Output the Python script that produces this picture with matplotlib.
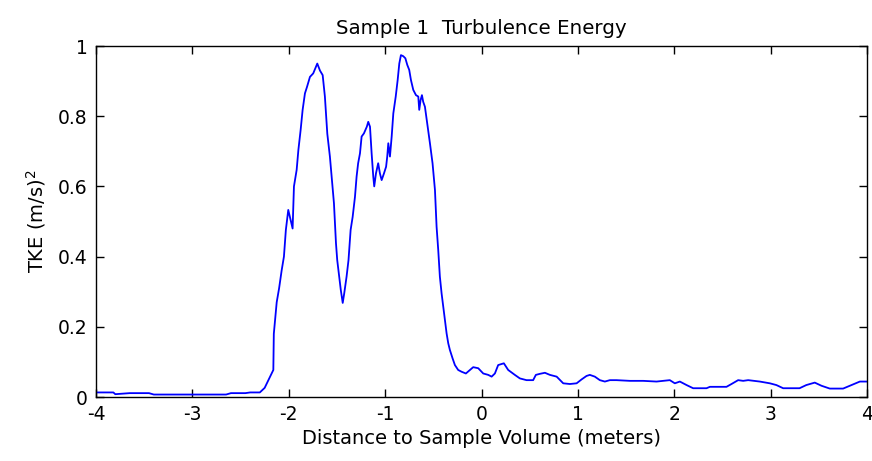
import matplotlib
matplotlib.use("Agg")
import matplotlib.pyplot as plt
import numpy as np

plt.rcParams['font.family'] = ['DejaVu Sans']

# distance to sample volume (m) and turbulence energy
distance = [-4.0, -3.82, -3.80, -3.65, -3.45, -3.40, -3.13, -2.65, -2.60, -2.45, -2.40, -2.30,
            -2.25, -2.16, -2.155, -2.125, -2.10, -2.074, -2.05, -2.03, -2.005, -1.98, -1.96,
            -1.946, -1.918, -1.90, -1.877, -1.856, -1.832, -1.81, -1.78, -1.746, -1.704,
            -1.676, -1.648, -1.625, -1.60, -1.573, -1.552, -1.531, -1.51, -1.497, -1.476,
            -1.46, -1.44, -1.424, -1.40, -1.38, -1.358, -1.337, -1.313, -1.296, -1.28,
            -1.261, -1.244, -1.22, -1.19, -1.175, -1.157, -1.14, -1.123, -1.113, -1.095,
            -1.072, -1.054, -1.036, -1.012, -0.99, -0.978, -0.967, -0.95, -0.932, -0.915,
            -0.89, -0.87, -0.853, -0.836, -0.812, -0.79, -0.77, -0.75, -0.732, -0.708,
            -0.68, -0.656, -0.646, -0.632, -0.618, -0.605, -0.587, -0.563, -0.535, -0.508,
            -0.483, -0.466, -0.449, -0.432, -0.414, -0.397, -0.38, -0.362, -0.345, -0.328,
            -0.30, -0.276, -0.242, -0.207, -0.162, -0.12, -0.086, -0.034, 0.018, 0.07,
            0.105, 0.139, 0.173, 0.232, 0.277, 0.346, 0.398, 0.467, 0.536, 0.564, 0.606,
            0.658, 0.71, 0.78, 0.848, 0.917, 0.987, 1.038, 1.09, 1.124, 1.176, 1.228, 1.28,
            1.332, 1.40, 1.54, 1.678, 1.816, 1.954, 2.006, 2.058, 2.128, 2.196, 2.335, 2.37,
            2.542, 2.594, 2.663, 2.715, 2.767, 2.888, 2.992, 3.06, 3.13, 3.30, 3.37, 3.458,
            3.528, 3.614, 3.752, 3.84, 3.926, 4.0]
tke = [0.013, 0.013, 0.008, 0.011, 0.011, 0.007, 0.007, 0.007, 0.011, 0.011, 0.013, 0.013,
       0.026, 0.077, 0.18, 0.27, 0.31, 0.36, 0.40, 0.476, 0.533, 0.504, 0.48,
       0.60, 0.647, 0.704, 0.76, 0.818, 0.865, 0.884, 0.912, 0.922, 0.950,
       0.93, 0.917, 0.856, 0.75, 0.685, 0.618, 0.552, 0.438, 0.39, 0.343,
       0.305, 0.268, 0.296, 0.343, 0.39, 0.476, 0.513, 0.57, 0.628, 0.666,
       0.694, 0.742, 0.751, 0.77, 0.784, 0.77, 0.694, 0.628, 0.60, 0.637,
       0.666, 0.637, 0.618, 0.637, 0.656, 0.685, 0.723, 0.685, 0.742, 0.808,
       0.856, 0.903, 0.95, 0.974, 0.971, 0.965, 0.946, 0.932, 0.903, 0.875,
       0.86, 0.856, 0.818, 0.846, 0.86, 0.841, 0.827, 0.78, 0.723, 0.666,
       0.59, 0.485, 0.419, 0.343, 0.295, 0.257, 0.219, 0.181, 0.153, 0.134,
       0.11, 0.091, 0.077, 0.072, 0.067, 0.077, 0.085, 0.082, 0.067, 0.063,
       0.058, 0.067, 0.091, 0.096, 0.077, 0.063, 0.053, 0.048, 0.048, 0.063, 0.066,
       0.069, 0.063, 0.058, 0.039, 0.037, 0.039, 0.05, 0.06, 0.063, 0.058, 0.048, 0.044,
       0.048, 0.048, 0.046, 0.046, 0.044, 0.048, 0.039, 0.044, 0.034, 0.025, 0.025, 0.029,
       0.029, 0.037, 0.048, 0.046, 0.048, 0.044, 0.039, 0.034, 0.025, 0.025, 0.034, 0.041,
       0.032, 0.024, 0.024, 0.034, 0.044, 0.044]

xticks = [-4, -3, -2, -1, 0, 1, 2, 3, 4]
yticks = [0, 0.2, 0.4, 0.6, 0.8, 1]
ytick_labels = ['0', '0.2', '0.4', '0.6', '0.8', '1']

fig = plt.figure(figsize=(8.72, 4.61), dpi=100)
ax = fig.add_axes([96 / 872, 64 / 461, 771 / 872, 351 / 461])

ax.plot(distance, tke, color='#0000ff', linewidth=1.3)

ax.set_xlim(-4, 4)
ax.set_ylim(0, 1)
ax.set_xticks(xticks)
ax.set_xticklabels([str(t) for t in xticks])
ax.set_yticks(yticks)
ax.set_yticklabels(ytick_labels)
ax.tick_params(direction='in', top=True, right=True, length=6, width=1,
               labelsize=13.5, pad=6)
for s in ax.spines.values():
    s.set_linewidth(1)

ax.set_title('Sample 1  Turbulence Energy', fontsize=14.3, pad=9)
ax.set_xlabel('Distance to Sample Volume (meters)', fontsize=14, labelpad=3)
ax.set_ylabel('TKE (m/s)$^2$', fontsize=14, labelpad=7)

fig.savefig('out.png', dpi=100)
